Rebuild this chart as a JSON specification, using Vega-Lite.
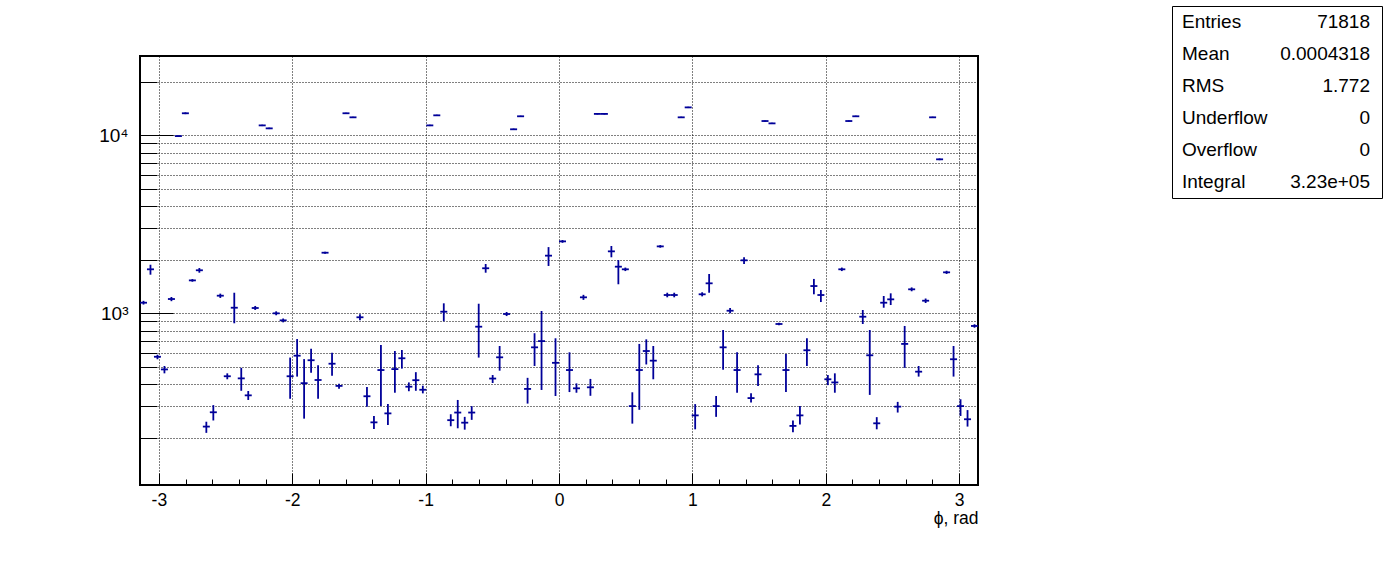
{
  "$schema": "https://vega.github.io/schema/vega-lite/v6.json",
  "padding": {"left": 94, "top": 5, "right": 5, "bottom": 5},
  "spacing": 191,
  "background": "white",
  "config": {
    "font": "Liberation Sans",
    "view": {"stroke": "black"},
    "axis": {"labelFlush": false, "labelBound": false, "labelOverlap": false}
  },
  "datasets": {
    "hist": [
      {"phi": -3.1154, "n": 1147, "lo": 1120, "hi": 1175},
      {"phi": -3.0631, "n": 1767, "lo": 1648, "hi": 1875},
      {"phi": -3.0107, "n": 570, "lo": 552, "hi": 585},
      {"phi": -2.9583, "n": 484, "lo": 460, "hi": 506},
      {"phi": -2.9060, "n": 1203, "lo": 1170, "hi": 1235},
      {"phi": -2.8536, "n": 9900, "lo": 9800, "hi": 10000},
      {"phi": -2.8013, "n": 13300, "lo": 13150, "hi": 13450},
      {"phi": -2.7489, "n": 1531, "lo": 1505, "hi": 1557},
      {"phi": -2.6965, "n": 1745, "lo": 1691, "hi": 1796},
      {"phi": -2.6442, "n": 231, "lo": 213, "hi": 246},
      {"phi": -2.5918, "n": 278, "lo": 250, "hi": 305},
      {"phi": -2.5395, "n": 1256, "lo": 1220, "hi": 1290},
      {"phi": -2.4871, "n": 443, "lo": 426, "hi": 460},
      {"phi": -2.4347, "n": 1075, "lo": 879, "hi": 1305},
      {"phi": -2.3824, "n": 431, "lo": 367, "hi": 494},
      {"phi": -2.3300, "n": 346, "lo": 326, "hi": 366},
      {"phi": -2.2777, "n": 1071, "lo": 1045, "hi": 1100},
      {"phi": -2.2253, "n": 11370, "lo": 11270, "hi": 11470},
      {"phi": -2.1729, "n": 10940, "lo": 10840, "hi": 11040},
      {"phi": -2.1206, "n": 1000, "lo": 975, "hi": 1026},
      {"phi": -2.0682, "n": 913, "lo": 890, "hi": 935},
      {"phi": -2.0159, "n": 443, "lo": 331, "hi": 564},
      {"phi": -1.9635, "n": 578, "lo": 441, "hi": 717},
      {"phi": -1.9111, "n": 405, "lo": 256, "hi": 553},
      {"phi": -1.8588, "n": 545, "lo": 463, "hi": 632},
      {"phi": -1.8064, "n": 422, "lo": 331, "hi": 511},
      {"phi": -1.7541, "n": 2190, "lo": 2160, "hi": 2220},
      {"phi": -1.7017, "n": 521, "lo": 446, "hi": 601},
      {"phi": -1.6493, "n": 391, "lo": 377, "hi": 402},
      {"phi": -1.5970, "n": 13300, "lo": 13200, "hi": 13400},
      {"phi": -1.5446, "n": 12620, "lo": 12520, "hi": 12720},
      {"phi": -1.4923, "n": 950, "lo": 914, "hi": 987},
      {"phi": -1.4399, "n": 342, "lo": 299, "hi": 385},
      {"phi": -1.3875, "n": 244, "lo": 224, "hi": 265},
      {"phi": -1.3352, "n": 480, "lo": 301, "hi": 664},
      {"phi": -1.2828, "n": 274, "lo": 236, "hi": 309},
      {"phi": -1.2305, "n": 486, "lo": 358, "hi": 614},
      {"phi": -1.1781, "n": 559, "lo": 489, "hi": 622},
      {"phi": -1.1257, "n": 387, "lo": 365, "hi": 409},
      {"phi": -1.0734, "n": 421, "lo": 367, "hi": 467},
      {"phi": -1.0210, "n": 372, "lo": 355, "hi": 392},
      {"phi": -0.9687, "n": 11370, "lo": 11270, "hi": 11470},
      {"phi": -0.9163, "n": 12950, "lo": 12850, "hi": 13050},
      {"phi": -0.8639, "n": 1021, "lo": 902, "hi": 1138},
      {"phi": -0.8116, "n": 251, "lo": 232, "hi": 271},
      {"phi": -0.7592, "n": 277, "lo": 226, "hi": 326},
      {"phi": -0.7069, "n": 243, "lo": 222, "hi": 262},
      {"phi": -0.6545, "n": 277, "lo": 252, "hi": 301},
      {"phi": -0.6021, "n": 841, "lo": 564, "hi": 1132},
      {"phi": -0.5498, "n": 1791, "lo": 1691, "hi": 1892},
      {"phi": -0.4974, "n": 430, "lo": 406, "hi": 450},
      {"phi": -0.4451, "n": 566, "lo": 476, "hi": 655},
      {"phi": -0.3927, "n": 991, "lo": 965, "hi": 1017},
      {"phi": -0.3403, "n": 10810, "lo": 10710, "hi": 10910},
      {"phi": -0.2880, "n": 12790, "lo": 12690, "hi": 12890},
      {"phi": -0.2356, "n": 376, "lo": 311, "hi": 434},
      {"phi": -0.1833, "n": 644, "lo": 506, "hi": 773},
      {"phi": -0.1309, "n": 698, "lo": 371, "hi": 1030},
      {"phi": -0.0785, "n": 2108, "lo": 1845, "hi": 2355},
      {"phi": -0.0262, "n": 527, "lo": 343, "hi": 724},
      {"phi": 0.0262, "n": 2536, "lo": 2490, "hi": 2580},
      {"phi": 0.0785, "n": 480, "lo": 361, "hi": 604},
      {"phi": 0.1309, "n": 379, "lo": 358, "hi": 404},
      {"phi": 0.1833, "n": 1230, "lo": 1190, "hi": 1270},
      {"phi": 0.2356, "n": 384, "lo": 344, "hi": 428},
      {"phi": 0.2880, "n": 13190, "lo": 13090, "hi": 13290},
      {"phi": 0.3403, "n": 13190, "lo": 13090, "hi": 13290},
      {"phi": 0.3927, "n": 2229, "lo": 2064, "hi": 2388},
      {"phi": 0.4451, "n": 1828, "lo": 1456, "hi": 1991},
      {"phi": 0.4974, "n": 1767, "lo": 1727, "hi": 1807},
      {"phi": 0.5498, "n": 301, "lo": 240, "hi": 360},
      {"phi": 0.6021, "n": 480, "lo": 287, "hi": 673},
      {"phi": 0.6545, "n": 614, "lo": 516, "hi": 714},
      {"phi": 0.7069, "n": 542, "lo": 426, "hi": 655},
      {"phi": 0.7592, "n": 2377, "lo": 2337, "hi": 2417},
      {"phi": 0.8116, "n": 1267, "lo": 1230, "hi": 1305},
      {"phi": 0.8639, "n": 1267, "lo": 1230, "hi": 1305},
      {"phi": 0.9163, "n": 12620, "lo": 12520, "hi": 12720},
      {"phi": 0.9687, "n": 14350, "lo": 14230, "hi": 14470},
      {"phi": 1.0210, "n": 267, "lo": 223, "hi": 309},
      {"phi": 1.0734, "n": 1279, "lo": 1245, "hi": 1313},
      {"phi": 1.1257, "n": 1474, "lo": 1305, "hi": 1663},
      {"phi": 1.1781, "n": 301, "lo": 262, "hi": 343},
      {"phi": 1.2305, "n": 644, "lo": 482, "hi": 806},
      {"phi": 1.2828, "n": 1034, "lo": 1000, "hi": 1070},
      {"phi": 1.3352, "n": 480, "lo": 358, "hi": 604},
      {"phi": 1.3875, "n": 1985, "lo": 1892, "hi": 2064},
      {"phi": 1.4399, "n": 334, "lo": 315, "hi": 355},
      {"phi": 1.4923, "n": 454, "lo": 391, "hi": 511},
      {"phi": 1.5446, "n": 12030, "lo": 11930, "hi": 12130},
      {"phi": 1.5970, "n": 11670, "lo": 11570, "hi": 11770},
      {"phi": 1.6493, "n": 871, "lo": 856, "hi": 886},
      {"phi": 1.7017, "n": 480, "lo": 361, "hi": 590},
      {"phi": 1.7541, "n": 233, "lo": 215, "hi": 250},
      {"phi": 1.8064, "n": 267, "lo": 237, "hi": 301},
      {"phi": 1.8588, "n": 620, "lo": 506, "hi": 724},
      {"phi": 1.9111, "n": 1423, "lo": 1279, "hi": 1560},
      {"phi": 1.9635, "n": 1267, "lo": 1157, "hi": 1352},
      {"phi": 2.0159, "n": 426, "lo": 395, "hi": 450},
      {"phi": 2.0682, "n": 409, "lo": 358, "hi": 460},
      {"phi": 2.1206, "n": 1767, "lo": 1727, "hi": 1807},
      {"phi": 2.1729, "n": 12030, "lo": 11930, "hi": 12130},
      {"phi": 2.2253, "n": 12790, "lo": 12690, "hi": 12890},
      {"phi": 2.2777, "n": 957, "lo": 871, "hi": 1044},
      {"phi": 2.3300, "n": 581, "lo": 348, "hi": 806},
      {"phi": 2.3824, "n": 241, "lo": 223, "hi": 261},
      {"phi": 2.4347, "n": 1147, "lo": 1075, "hi": 1251},
      {"phi": 2.4871, "n": 1198, "lo": 1113, "hi": 1295},
      {"phi": 2.5395, "n": 299, "lo": 277, "hi": 318},
      {"phi": 2.5918, "n": 673, "lo": 494, "hi": 849},
      {"phi": 2.6442, "n": 1364, "lo": 1330, "hi": 1398},
      {"phi": 2.6965, "n": 470, "lo": 441, "hi": 506},
      {"phi": 2.7489, "n": 1177, "lo": 1143, "hi": 1211},
      {"phi": 2.8013, "n": 12620, "lo": 12520, "hi": 12720},
      {"phi": 2.8536, "n": 7330, "lo": 7250, "hi": 7410},
      {"phi": 2.9060, "n": 1699, "lo": 1664, "hi": 1734},
      {"phi": 2.9583, "n": 552, "lo": 441, "hi": 655},
      {"phi": 3.0107, "n": 301, "lo": 265, "hi": 329},
      {"phi": 3.0631, "n": 254, "lo": 231, "hi": 286},
      {"phi": 3.1154, "n": 849, "lo": 830, "hi": 868}
    ],
    "stats": [
      {"label": "Entries", "value": "71818"},
      {"label": "Mean", "value": "0.0004318"},
      {"label": "RMS", "value": "1.772"},
      {"label": "Underflow", "value": "0"},
      {"label": "Overflow", "value": "0"},
      {"label": "Integral", "value": "3.23e+05"}
    ]
  },
  "hconcat": [
    {
      "spacing": 10,
      "vconcat": [
        {
          "width": 838,
          "height": 39,
          "view": {"stroke": null},
          "data": {"values": []},
          "mark": "point"
        },
        {
          "width": 838,
          "height": 429,
          "view": {"stroke": "black", "strokeWidth": 2},
          "data": {"name": "hist"},
          "layer": [
            {
              "mark": {"type": "rule", "color": "#000099", "strokeWidth": 1.8},
              "encoding": {
                "x": {
                  "field": "phi", "type": "quantitative",
                  "scale": {"domain": [-3.14159, 3.14159], "nice": false, "zero": false},
                  "axis": {
                    "orient": "bottom", "values": [-3, -2, -1, 0, 1, 2, 3],
                    "labelExpr": "'' + datum.value",
                    "domain": false, "ticks": true, "tickSize": -12, "tickColor": "black", "tickWidth": 1,
                    "labelPadding": 18, "labelFontSize": 17.5, "labelColor": "black",
                    "grid": true, "gridColor": "black", "gridDash": [1, 2], "gridWidth": 1, "gridOpacity": 1,
                    "title": "ϕ, rad", "titleAnchor": "end", "titleAlign": "right", "titleFontSize": 17.5,
                    "titleFontWeight": "normal", "titleColor": "black", "titlePadding": 1
                  }
                },
                "y": {
                  "field": "lo", "type": "quantitative",
                  "scale": {"type": "log", "domain": [108.5, 27900], "nice": false},
                  "axis": {
                    "orient": "left", "values": [1000, 10000],
                    "labelExpr": "datum.value == 1000 ? '10³' : '10⁴'",
                    "domain": false, "ticks": true, "tickSize": -33, "tickColor": "black", "tickWidth": 1,
                    "labelPadding": 45, "labelFontSize": 19, "labelColor": "black",
                    "grid": true, "gridColor": "black", "gridDash": [1, 2], "gridWidth": 1, "gridOpacity": 1,
                    "title": null, "minExtent": 45
                  }
                },
                "y2": {"field": "hi"}
              }
            },
            {
              "mark": {"type": "tick", "orient": "horizontal", "size": 7, "thickness": 1.8, "color": "#000099", "opacity": 1},
              "encoding": {
                "x": {
                  "field": "phi", "type": "quantitative",
                  "scale": {"domain": [-3.14159, 3.14159], "nice": false, "zero": false},
                  "axis": {
                    "orient": "bottom",
                    "values": [-2.8, -2.6, -2.4, -2.2, -1.8, -1.6, -1.4, -1.2, -0.8, -0.6, -0.4, -0.2, 0.2, 0.4, 0.6, 0.8, 1.2, 1.4, 1.6, 1.8, 2.2, 2.4, 2.6, 2.8],
                    "domain": false, "labels": false, "grid": false, "ticks": true, "tickSize": -6, "tickColor": "black", "tickWidth": 1,
                    "title": null
                  }
                },
                "y": {
                  "field": "n", "type": "quantitative",
                  "scale": {"type": "log", "domain": [108.5, 27900], "nice": false},
                  "axis": {
                    "orient": "left",
                    "values": [200, 300, 400, 500, 600, 700, 800, 900, 2000, 3000, 4000, 5000, 6000, 7000, 8000, 9000, 20000],
                    "domain": false, "labels": false, "ticks": true, "tickSize": -17, "tickColor": "black", "tickWidth": 1,
                    "grid": true, "gridColor": "black", "gridDash": [1, 2], "gridWidth": 1, "gridOpacity": 1,
                    "title": null, "minExtent": 45
                  }
                }
              }
            }
          ],
          "resolve": {"axis": {"x": "independent", "y": "independent"}}
        }
      ]
    },
    {
      "width": 210,
      "height": 192,
      "view": {"stroke": "black", "strokeWidth": 1, "fill": "white"},
      "data": {"name": "stats"},
      "encoding": {
        "y": {"field": "label", "type": "nominal", "sort": null, "axis": null}
      },
      "layer": [
        {
          "mark": {"type": "text", "align": "left", "baseline": "middle", "dx": 10, "fontSize": 19, "color": "black"},
          "encoding": {
            "x": {"datum": 0, "type": "quantitative", "scale": {"domain": [0, 1], "nice": false, "zero": false}, "axis": null},
            "text": {"field": "label"}
          }
        },
        {
          "mark": {"type": "text", "align": "right", "baseline": "middle", "dx": -12, "fontSize": 19, "color": "black"},
          "encoding": {
            "x": {"datum": 1, "type": "quantitative", "scale": {"domain": [0, 1], "nice": false, "zero": false}, "axis": null},
            "text": {"field": "value"}
          }
        }
      ]
    }
  ]
}
